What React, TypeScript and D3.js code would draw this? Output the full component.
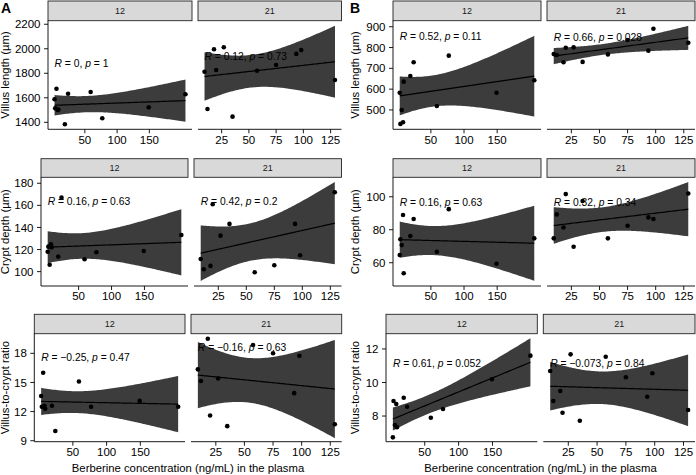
import React from 'react';
import * as d3 from 'd3';

// ---------------- data ----------------
const x12 = [3, 4, 6, 8, 9, 19, 24, 59, 77, 149, 206];
const x21 = [9.3, 12, 18, 20, 27, 35, 57.5, 75, 93.5, 98, 129];

const villusA12 = [1588, 1514, 1674, 1500, 1505, 1384, 1633, 1647, 1433, 1522, 1629];
const villusA21 = [1813, 1509, 1996, 1827, 2012, 1446, 1821, 1868, 1958, 1990, 1745];
const villusB12 = [583, 433, 500, 441, 636, 663, 729, 519, 761, 583, 643];
const villusB21 = [769, 764, 729, 799, 801, 731, 767, 836, 785, 890, 823];

const cryptA12 = [118, 122.6, 106.3, 124.8, 122, 113.6, 167, 111.2, 117.6, 118.7, 133.2];
const cryptA21 = [111.5, 102.2, 105.2, 161, 132.6, 143.2, 99.5, 105.8, 143.2, 114.8, 171.9];
const cryptB12 = [64.7, 74.2, 70.7, 88.9, 53.6, 76.2, 86.5, 66.7, 92.5, 59.4, 74.8];
const cryptB21 = [74.8, 89.3, 81.4, 101.6, 69.7, 97.4, 74.8, 82.4, 87.5, 86.5, 102];

const ratioA12 = [13.6, 12.5, 16.0, 12.6, 12.3, 12.6, 10.0, 15.1, 12.5, 13.1, 12.5];
const ratioA21 = [16.35, 15.15, 19.5, 11.6, 15.4, 10.5, 18.85, 18.0, 13.9, 17.75, 10.7];
const ratioB12 = [6.73, 8.9, 7.46, 8.72, 7.33, 9.09, 8.55, 7.9, 8.42, 10.19, 11.6];
const ratioB21 = [10.69, 8.9, 9.49, 8.2, 11.68, 7.72, 11.54, 10.31, 9.15, 10.55, 8.36];

const stripLabels = ['12', '21'];
const xTicks12 = [50, 100, 150];
const xTicks21 = [25, 50, 75, 100, 125];

const yTicksVillusA = [1400, 1600, 1800, 2000, 2200];
const yTicksVillusB = [500, 600, 700, 800, 900];
const yTicksCryptA = [100, 120, 140, 160, 180];
const yTicksCryptB = [60, 80, 100];
const yTicksRatioA = [9, 12, 15, 18];
const yTicksRatioB = [8, 10, 12];

const yDomVillusA = [1343, 2229];
const yDomVillusB = [407, 929];
const yDomCryptA = [87, 185.4];
const yDomCryptB = [45.9, 111.8];
const yDomRatioA = [8.9, 20.02];
const yDomRatioB = [6.47, 12.91];

// correlation labels [R, p]
const statVillusA = [['0', '1'], ['0.12', '0.73']];
const statVillusB = [['0.52', '0.11'], ['0.66', '0.028']];
const statCryptA = [['0.16', '0.63'], ['0.42', '0.2']];
const statCryptB = [['0.16', '0.63'], ['0.32', '0.34']];
const statRatioA = [['\u22120.25', '0.47'], ['\u22120.16', '0.63']];
const statRatioB = [['0.61', '0.052'], ['\u22120.073', '0.84']];

// label y positions (data units)
const labelYVillusA = [1882, 1941];
const labelYVillusB = [855, 849];
const labelYCryptA = [163.4, 163.4];
const labelYCryptB = [96.6, 96.6];
const labelYRatioA = [17.6, 18.6];
const labelYRatioB = [11.15, 11.15];

const yTitles = ['Villus length (\u00b5m)', 'Crypt depth (\u00b5m)', 'Villus-to-crypt ratio'];
const xTitle = 'Berberine concentration (ng/mL) in the plasma';

// ---------------- layout ----------------
const FONT = "'Liberation Sans', Arial, Helvetica, sans-serif";
const ROWS = [
  { stripTop: 1, top: 20.7, bottom: 129.3 },
  { stripTop: 158.7, top: 177.3, bottom: 286 },
  { stripTop: 314.3, top: 333.7, bottom: 441.7 },
];
// [row][group] -> [[L,R] panel12, [L,R] panel21]
const PANEL_X = [
  [[[48, 192], [198, 341.5]], [[393, 541], [547, 695]]],
  [[[41, 188], [194, 341.5]], [[393, 541], [547, 695]]],
  [[[34.3, 185], [191, 341.7]], [[386, 537.3], [543.3, 695]]],
];

const T975: Record<number, number> = { 7: 2.365, 8: 2.306, 9: 2.262, 10: 2.228, 11: 2.201 };

function fit(xs: number[], ys: number[]) {
  const n = xs.length;
  const mx = d3.mean(xs)!;
  const my = d3.mean(ys)!;
  let sxx = 0, sxy = 0;
  xs.forEach((x, i) => { sxx += (x - mx) ** 2; sxy += (x - mx) * (ys[i] - my); });
  const b = sxy / sxx;
  const a = my - b * mx;
  let sse = 0;
  xs.forEach((x, i) => { sse += (ys[i] - a - b * x) ** 2; });
  const s = Math.sqrt(sse / (n - 2));
  const t = T975[n - 2] ?? 2.262;
  const [x0, x1] = d3.extent(xs) as [number, number];
  return d3.range(80).map((i) => {
    const x = x0 + ((x1 - x0) * i) / 79;
    const yh = a + b * x;
    const se = s * Math.sqrt(1 / n + (x - mx) ** 2 / sxx);
    return { x, y: yh, lo: yh - t * se, hi: yh + t * se };
  });
}

type PanelProps = {
  xs: number[]; ys: number[]; L: number; R: number; row: typeof ROWS[0];
  yDom: number[]; yTicks: number[]; xTicks: number[]; showY: boolean;
  strip: string; stat: string[]; labelY: number; clipId: string;
};

const TICK_FS = 11.5;

function Panel(p: PanelProps) {
  const [x0, x1] = d3.extent(p.xs) as [number, number];
  const pad = (x1 - x0) * 0.05;
  const xs = d3.scaleLinear().domain([x0 - pad, x1 + pad]).range([p.L, p.R]);
  const ys = d3.scaleLinear().domain(p.yDom).range([p.row.bottom, p.row.top]);
  const band = fit(p.xs, p.ys);
  const area = d3.area<any>().x((d) => xs(d.x)).y0((d) => ys(d.lo)).y1((d) => ys(d.hi));
  const line = d3.line<any>().x((d) => xs(d.x)).y((d) => ys(d.y));
  const midX = (p.L + p.R) / 2;
  return (
    <g>
      <defs>
        <clipPath id={p.clipId}>
          <rect x={p.L} y={p.row.top} width={p.R - p.L} height={p.row.bottom - p.row.top} />
        </clipPath>
      </defs>
      <rect x={p.L} y={p.row.stripTop} width={p.R - p.L} height={p.row.top - p.row.stripTop}
        fill="#d9d9d9" stroke="#222" strokeWidth={0.9} />
      <text x={midX} y={(p.row.stripTop + p.row.top) / 2 + 3.2} textAnchor="middle"
        fontSize={9} fill="#1a1a1a">{p.strip}</text>
      <g clipPath={`url(#${p.clipId})`}>
        <path d={area(band) || ''} fill="#3c3c3c" />
        <path d={line(band) || ''} fill="none" stroke="#000" strokeWidth={1.2} />
        {p.xs.map((x, i) => (
          <circle key={i} cx={xs(x)} cy={ys(p.ys[i])} r={2.3} fill="#000" />
        ))}
      </g>
      <text x={xs(x0)} y={ys(p.labelY) + 3.6} fontSize={10.3} fill="#000">
        <tspan fontStyle="italic">R</tspan>{` = ${p.stat[0]}, `}
        <tspan fontStyle="italic">p</tspan>{` = ${p.stat[1]}`}
      </text>
      {/* bottom axis */}
      <line x1={p.L} x2={p.R} y1={p.row.bottom} y2={p.row.bottom} stroke="#000" strokeWidth={0.9} />
      {p.xTicks.map((t) => (
        <g key={t}>
          <line x1={xs(t)} x2={xs(t)} y1={p.row.bottom} y2={p.row.bottom + 4} stroke="#000" strokeWidth={0.9} />
          <text x={xs(t)} y={p.row.bottom + 14.3} textAnchor="middle" fontSize={TICK_FS} fill="#000">{t}</text>
        </g>
      ))}
      {p.showY && (
        <g>
          <line x1={p.L} x2={p.L} y1={p.row.top} y2={p.row.bottom} stroke="#000" strokeWidth={0.9} />
          {p.yTicks.map((t) => (
            <g key={t}>
              <line x1={p.L - 4} x2={p.L} y1={ys(t)} y2={ys(t)} stroke="#000" strokeWidth={0.9} />
              <text x={p.L - 7.5} y={ys(t) + 4.1} textAnchor="end" fontSize={TICK_FS} fill="#000">{t}</text>
            </g>
          ))}
        </g>
      )}
    </g>
  );
}

const ROW_DATA = [
  {
    A: { ys: [villusA12, villusA21], dom: yDomVillusA, ticks: yTicksVillusA, stat: statVillusA, ly: labelYVillusA },
    B: { ys: [villusB12, villusB21], dom: yDomVillusB, ticks: yTicksVillusB, stat: statVillusB, ly: labelYVillusB },
  },
  {
    A: { ys: [cryptA12, cryptA21], dom: yDomCryptA, ticks: yTicksCryptA, stat: statCryptA, ly: labelYCryptA },
    B: { ys: [cryptB12, cryptB21], dom: yDomCryptB, ticks: yTicksCryptB, stat: statCryptB, ly: labelYCryptB },
  },
  {
    A: { ys: [ratioA12, ratioA21], dom: yDomRatioA, ticks: yTicksRatioA, stat: statRatioA, ly: labelYRatioA },
    B: { ys: [ratioB12, ratioB21], dom: yDomRatioB, ticks: yTicksRatioB, stat: statRatioB, ly: labelYRatioB },
  },
];

export default function App() {
  const W = 696, H = 475;
  const xsets = [x12, x21];
  const xtickSets = [xTicks12, xTicks21];
  const panels: React.ReactNode[] = [];
  const titles: React.ReactNode[] = [];
  ROWS.forEach((row, ri) => {
    (['A', 'B'] as const).forEach((grp, gi) => {
      const rd = (ROW_DATA[ri] as any)[grp];
      [0, 1].forEach((pi) => {
        const [L, R] = PANEL_X[ri][gi][pi];
        panels.push(
          <Panel key={`${ri}-${grp}-${pi}`} xs={xsets[pi]} ys={rd.ys[pi]} L={L} R={R} row={row}
            yDom={rd.dom} yTicks={rd.ticks} xTicks={xtickSets[pi]} showY={pi === 0}
            strip={stripLabels[pi]} stat={rd.stat[pi]} labelY={rd.ly[pi]} clipId={`c${ri}${grp}${pi}`} />
        );
      });
      const tx = gi === 0 ? 8.5 : 359;
      const ty = (row.top + row.bottom) / 2;
      titles.push(
        <text key={`yt${ri}${grp}`} transform={`translate(${tx},${ty}) rotate(-90)`} textAnchor="middle"
          fontSize={11.3} fill="#000">{yTitles[ri]}</text>
      );
    });
  });
  const xA = (PANEL_X[2][0][0][0] + PANEL_X[2][0][1][1]) / 2;
  const xB = (PANEL_X[2][1][0][0] + PANEL_X[2][1][1][1]) / 2;
  return (
    <svg width={W} height={H} style={{ display: 'block', position: 'absolute', left: 0, top: 0 }}
      fontFamily={FONT}>
      <rect width={W} height={H} fill="#fff" />
      {panels}
      {titles}
      <text x={xA} y={472} textAnchor="middle" fontSize={11.3} fill="#000">{xTitle}</text>
      <text x={xB} y={472} textAnchor="middle" fontSize={11.3} fill="#000">{xTitle}</text>
      <text x={1} y={13} fontSize={14} fontWeight="bold" fill="#000">A</text>
      <text x={350} y={13} fontSize={14} fontWeight="bold" fill="#000">B</text>
    </svg>
  );
}
